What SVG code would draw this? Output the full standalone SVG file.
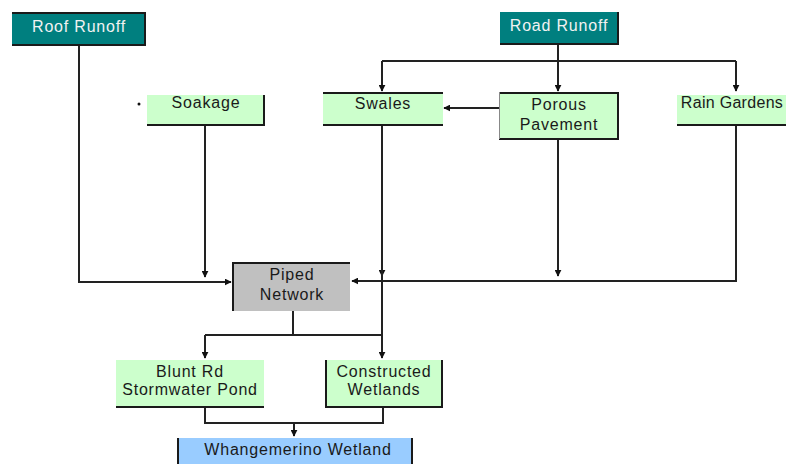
<svg xmlns="http://www.w3.org/2000/svg" width="786" height="464" viewBox="0 0 786 464">
<style>
text{font-family:"Liberation Sans",Arial,sans-serif;font-size:16px;letter-spacing:0.8px;text-anchor:middle;fill:#1a1a1a}
.teal{fill:#007f7f}
.green{fill:#ccffcc}
.gray{fill:#c0c0c0}
.blue{fill:#99ccff}
.edge{fill:none;stroke:#1a1a1a;stroke-width:2}
.wt{fill:#f2f2f2}
.conn path{fill:none;stroke:#222;stroke-width:2}
</style>
<defs>
<marker id="ah" viewBox="0 0 10 10" refX="9" refY="5" markerWidth="3.5" markerHeight="3.5" orient="auto" markerUnits="strokeWidth">
<path d="M0,0 L10,5 L0,10 Z" fill="#111"/>
</marker>
</defs>
<rect width="786" height="464" fill="#ffffff"/>

<g id="conn" class="conn">
<path d="M79 45 V282 H231" marker-end="url(#ah)"/>
<path d="M205 125 V277" marker-end="url(#ah)"/>
<path d="M558 44 V61"/>
<path d="M382 61 H736"/>
<path d="M382 61 V91" marker-end="url(#ah)"/>
<path d="M558 61 V91" marker-end="url(#ah)"/>
<path d="M736 61 V91" marker-end="url(#ah)"/>
<path d="M499 108 H444" marker-end="url(#ah)"/>
<path d="M382 126 V276" marker-end="url(#ah)"/>
<path d="M382 270 V358" marker-end="url(#ah)"/>
<path d="M558 139 V276" marker-end="url(#ah)"/>
<path d="M736 125 V281 H352" marker-end="url(#ah)"/>
<path d="M293 311 V335"/>
<path d="M205 335 H382"/>
<path d="M205 335 V358" marker-end="url(#ah)"/>
<path d="M205 407 V423 H383 V407"/>
<path d="M294 423 V436" marker-end="url(#ah)"/>
</g>

<circle cx="139" cy="104" r="1.5" fill="#111"/>

<g id="roof-runoff">
<rect x="12" y="12" width="133" height="33" class="teal"/>
<path class="edge" d="M12 13 H145 V45 H12"/>
<text x="79" y="32" class="wt">Roof Runoff</text>
</g>

<g id="road-runoff">
<rect x="500" y="12" width="118" height="32" class="teal"/>
<path class="edge" d="M618 12 V44 H500"/>
<text x="559" y="31" class="wt">Road Runoff</text>
</g>

<g id="soakage">
<rect x="147" y="95" width="117" height="30" class="green"/>
<path class="edge" d="M264 95 V125 H147"/>
<text x="206" y="108">Soakage</text>
</g>

<g id="swales">
<rect x="323" y="92" width="120" height="34" class="green"/>
<path class="edge" d="M323 93 H443 M323 125 H443"/>
<text x="383" y="109">Swales</text>
</g>

<g id="porous-pavement">
<rect x="499" y="92" width="119" height="47" class="green"/>
<path class="edge" d="M499 93 H618 V139 H499"/>
<path d="M499.5 92 V139" stroke="#888" stroke-width="1" fill="none"/>
<text x="559" y="110">Porous</text>
<text x="559" y="130">Pavement</text>
</g>

<g id="rain-gardens">
<rect x="677" y="95" width="120" height="30" class="green"/>
<path class="edge" d="M677 125 H786"/>
<text x="732" y="108" style="letter-spacing:0.3px">Rain Gardens</text>
</g>

<g id="piped-network">
<rect x="233" y="263" width="117" height="48" class="gray"/>
<path class="edge" d="M233 311 V263 H350"/>
<text x="292" y="280">Piped</text>
<text x="292" y="300">Network</text>
</g>

<g id="blunt-rd-pond">
<rect x="116" y="360" width="148" height="47" class="green"/>
<path class="edge" d="M116 407 H264"/>
<text x="190" y="377">Blunt Rd</text>
<text x="190" y="395">Stormwater Pond</text>
</g>

<g id="constructed-wetlands">
<rect x="325" y="360" width="117" height="47" class="green"/>
<path class="edge" d="M326 360 V407 H442 V360"/>
<text x="384" y="377">Constructed</text>
<text x="384" y="395">Wetlands</text>
</g>

<g id="whangemerino-wetland">
<rect x="177" y="438" width="236" height="30" class="blue"/>
<path class="edge" d="M178 438 V464 M412 438 V464"/>
<text x="298" y="455">Whangemerino Wetland</text>
</g>
</svg>
